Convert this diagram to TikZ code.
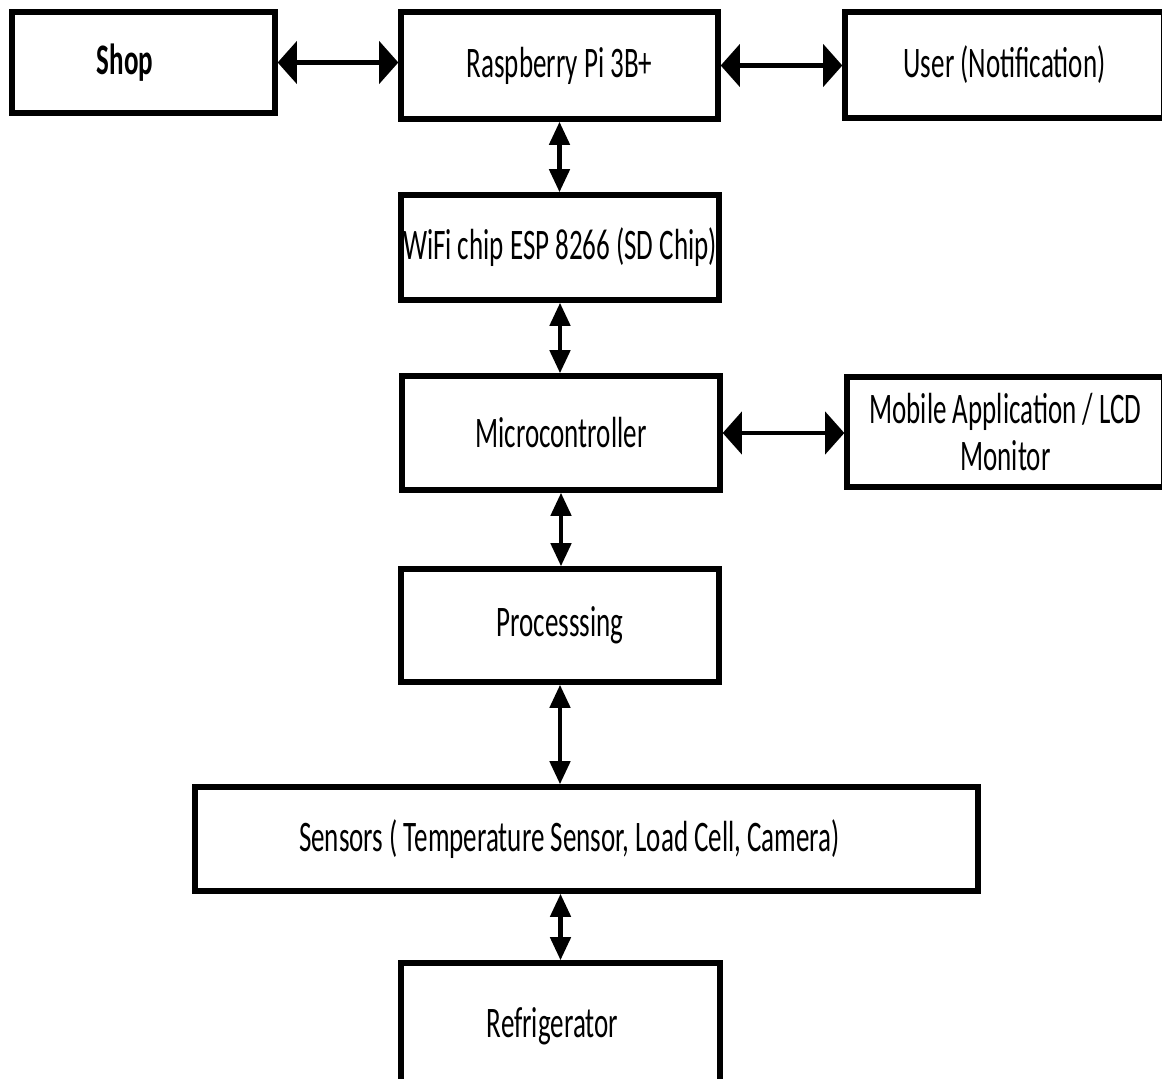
\documentclass[tikz,border=0pt]{standalone}
\usepackage{fontspec}
\setmainfont{Carlito}[FakeStretch=0.62]
\usetikzlibrary{arrows.meta}
\newcommand{\px}{0.025cm}

\begin{document}
\begin{tikzpicture}[x=\px, y=-\px,
      box/.style={draw, line width=3.8pt, inner sep=0pt, align=center, font=\fontsize{31}{34}\selectfont},
      harr/.style={{Triangle[length=0.48cm,width=1.05cm]}-{Triangle[length=0.48cm,width=1.05cm]}, line width=3.4pt},
      varr/.style={{Triangle[length=0.58cm,width=0.5cm]}-{Triangle[length=0.58cm,width=0.5cm]}, line width=3.4pt}
    ]
    \clip (0,0) rectangle (1162,1078);
    \node[box, minimum width=263*\px, minimum height=101*\px] (shop) at (143.5,62.5) {\textbf{Shop}\hspace{0.92cm}};
    \node[box, minimum width=317*\px, minimum height=107*\px] (rpi) at (559.5,65.5) {Raspberry Pi 3B+};
    \node[box, minimum width=319*\px, minimum height=106*\px] (user) at (1004.5,65) {User (Notification)};
    \node[box, minimum width=318*\px, minimum height=105*\px] (wifi) at (560,247.5) {WiFi chip ESP 8266 (SD Chip)};
    \node[box, minimum width=318*\px, minimum height=114*\px] (micro) at (561,433) {Microcontroller};
    \node[box, minimum width=317*\px, minimum height=110*\px] (mobile) at (1005.5,432) {Mobile Application / LCD\\Monitor};
    \node[box, minimum width=318*\px, minimum height=113*\px] (proc) at (560,625.5) {Processsing};
    \node[box, minimum width=783*\px, minimum height=104*\px] (sensors) at (586.5,839) {Sensors ( Temperature Sensor, Load Cell, Camera)\hspace{0.85cm}};
    \node[box, minimum width=319*\px, minimum height=127*\px] (fridge) at (560.5,1026.5) {Refrigerator\hspace{0.4cm}};

    \draw[harr] (shop.east) -- (shop.east -| rpi.west);
    \draw[harr] (rpi.east) -- (rpi.east -| user.west);
    \draw[harr] (micro.east) -- (micro.east -| mobile.west);
    \draw[varr] (rpi.south) -- (rpi.south |- wifi.north);
    \draw[varr] (wifi.south) -- (wifi.south |- micro.north);
    \draw[varr] (micro.south) -- (micro.south |- proc.north);
    \draw[varr] (proc.south) -- (proc.south |- sensors.north);
    \draw[varr] (fridge.north |- sensors.south) -- (fridge.north);
  \end{tikzpicture}
\end{document}
